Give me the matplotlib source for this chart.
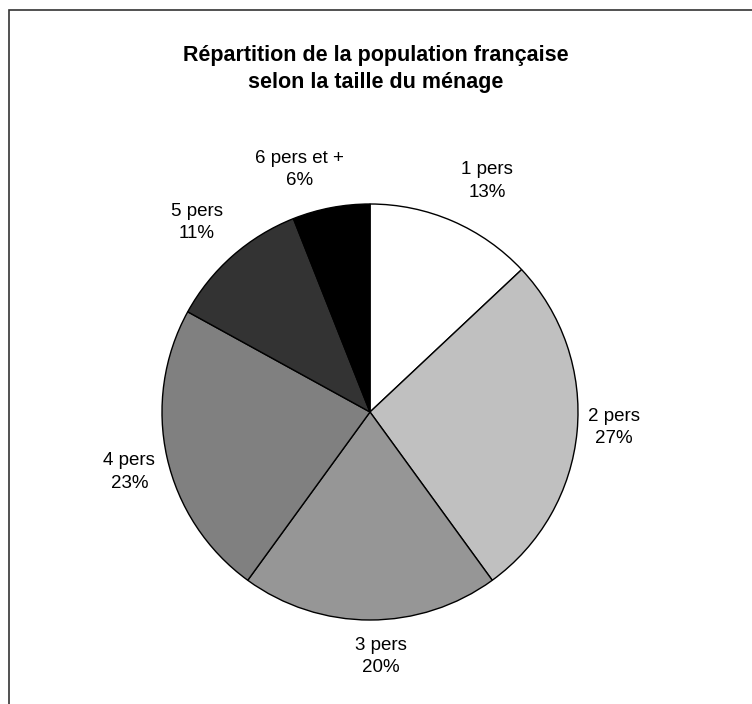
import numpy as np
import matplotlib.pyplot as plt
from matplotlib.patches import Rectangle

plt.rcParams['font.family'] = ['Liberation Sans', 'DejaVu Sans']

# data
categories = ['1 pers', '2 pers', '3 pers', '4 pers', '5 pers', '6 pers et +']
shares = [13, 27, 20, 23, 11, 6]
colors = ['#ffffff', '#c0c0c0', '#969696', '#808080', '#333333', '#000000']
# small pixel nudges of the labels (excel "best fit" placement)
label_nudge = [(17, 0), (-7, -8), (11, -7), (5, 5), (-7, -1), (-23, 5)]

W, H = 752, 704
fig = plt.figure(figsize=(W / 100, H / 100), dpi=100)
ax = fig.add_axes([0, 0, 1, 1])

# pie in pixel units
cx, cy, R = 370, H - 412, 208
wedges, _ = ax.pie(shares, colors=colors, startangle=90, counterclock=False,
                   radius=R, center=(cx, cy), frame=True,
                   wedgeprops=dict(edgecolor='black', linewidth=1.0))
ax.set_xlim(0, W)
ax.set_ylim(0, H)
ax.set_aspect('equal')
ax.axis('off')

for w, cat, v, (nx, ny) in zip(wedges, categories, shares, label_nudge):
    ang = np.deg2rad((w.theta1 + w.theta2) / 2)
    d = 1.21 * R
    ax.text(cx + d * np.cos(ang) + nx, cy + d * np.sin(ang) - ny, f'{cat}\n{v}%',
            ha='center', va='center', fontsize=13.5, linespacing=1.4)

fig.text(376 / W, 1 - 69 / H,
         'Répartition de la population française\nselon la taille du ménage',
         ha='center', va='center', fontsize=15.5, fontweight='bold',
         linespacing=1.35)

# frame around the chart area (cut by the image edges)
fig.patches.append(Rectangle((8.5 / W, -0.1), 1.2, 1.1 - 10.5 / H,
                             transform=fig.transFigure, fill=False,
                             edgecolor='#333333', linewidth=1.2))

fig.savefig('out.png', dpi=100)
